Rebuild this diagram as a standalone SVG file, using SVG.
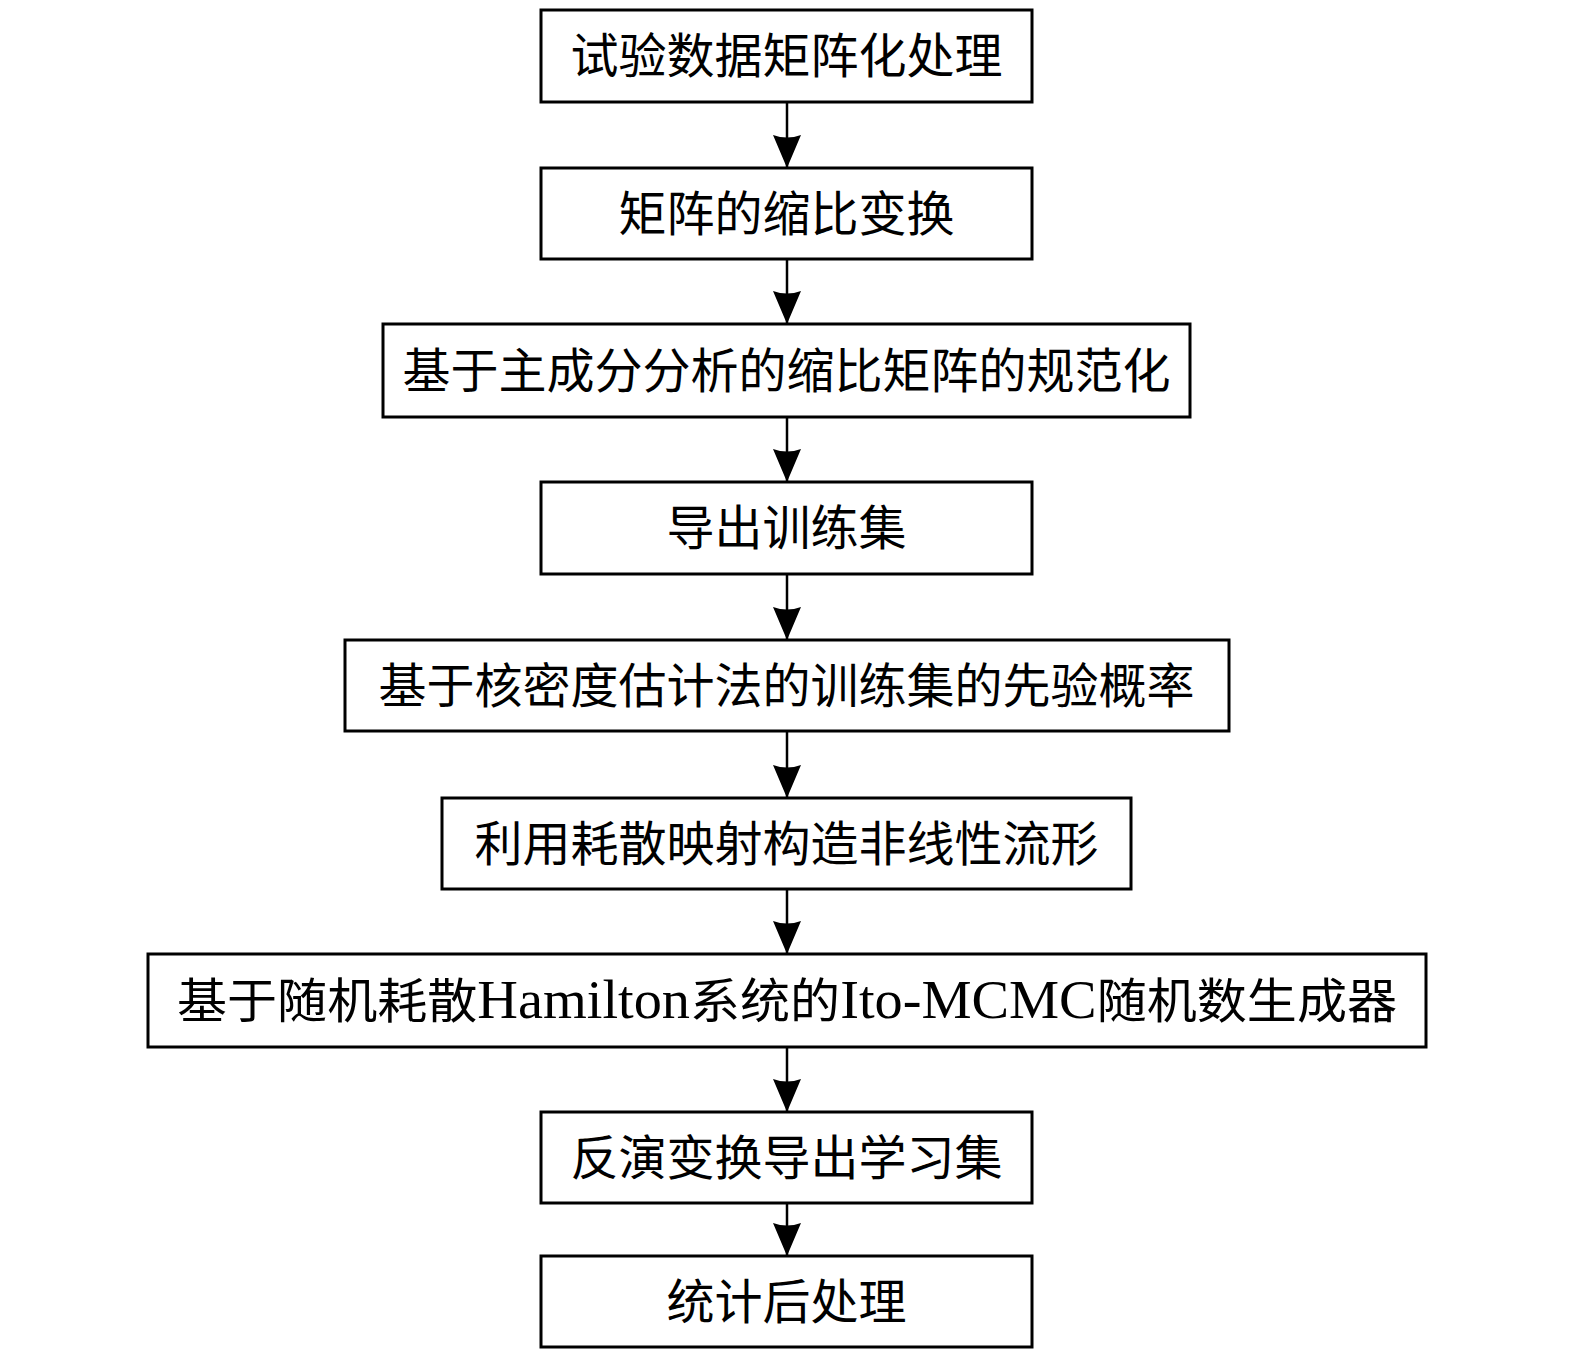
<svg xmlns="http://www.w3.org/2000/svg" width="1575" height="1358" viewBox="0 0 1575 1358">
<style>
.box{fill:#fff;stroke:#000;stroke-width:3}
.lbl{font-family:"Liberation Serif","Noto Sans CJK SC",serif;font-size:48px;fill:#000;text-anchor:middle}
.lat{font-family:"Liberation Serif",serif;font-size:54px}
.conn{stroke:#000;stroke-width:2.5;fill:none;marker-end:url(#ah)}
</style>
<defs>
<marker id="ah" markerUnits="userSpaceOnUse" markerWidth="33" markerHeight="28" viewBox="0 0 33 28" refX="33" refY="14" orient="auto">
<path d="M0,0 L33,14 L0,28 Q5,14 0,0 z" fill="#000"/>
</marker>
</defs>
<rect width="1575" height="1358" fill="#fff"/>
<g id="connectors">
<path class="conn" d="M787,102 V168"/>
<path class="conn" d="M787,259 V324"/>
<path class="conn" d="M787,417 V482"/>
<path class="conn" d="M787,574 V640"/>
<path class="conn" d="M787,731 V798"/>
<path class="conn" d="M787,889 V954"/>
<path class="conn" d="M787,1047 V1112"/>
<path class="conn" d="M787,1203 V1256"/>
</g>
<g id="n1"><rect class="box" x="541" y="10" width="491" height="92"/><text class="lbl" x="786.5" y="73">试验数据矩阵化处理</text></g>
<g id="n2"><rect class="box" x="541" y="168" width="491" height="91"/><text class="lbl" x="786.5" y="230.5">矩阵的缩比变换</text></g>
<g id="n3"><rect class="box" x="383" y="324" width="807" height="93"/><text class="lbl" x="786.5" y="387.5">基于主成分分析的缩比矩阵的规范化</text></g>
<g id="n4"><rect class="box" x="541" y="482" width="491" height="92"/><text class="lbl" x="786.5" y="545">导出训练集</text></g>
<g id="n5"><rect class="box" x="345" y="640" width="884" height="91"/><text class="lbl" x="786.5" y="702.5">基于核密度估计法的训练集的先验概率</text></g>
<g id="n6"><rect class="box" x="442" y="798" width="689" height="91"/><text class="lbl" x="786.5" y="860.5">利用耗散映射构造非线性流形</text></g>
<g id="n7"><rect class="box" x="148" y="954" width="1278" height="93"/><text class="lbl" x="787" y="1017.5" textLength="1220" lengthAdjust="spacingAndGlyphs">基于随机耗散<tspan class="lat">Hamilton</tspan>系统的<tspan class="lat">Ito-MCMC</tspan>随机数生成器</text></g>
<g id="n8"><rect class="box" x="541" y="1112" width="491" height="91"/><text class="lbl" x="786.5" y="1174.5">反演变换导出学习集</text></g>
<g id="n9"><rect class="box" x="541" y="1256" width="491" height="91"/><text class="lbl" x="786.5" y="1318.5">统计后处理</text></g>
</svg>
